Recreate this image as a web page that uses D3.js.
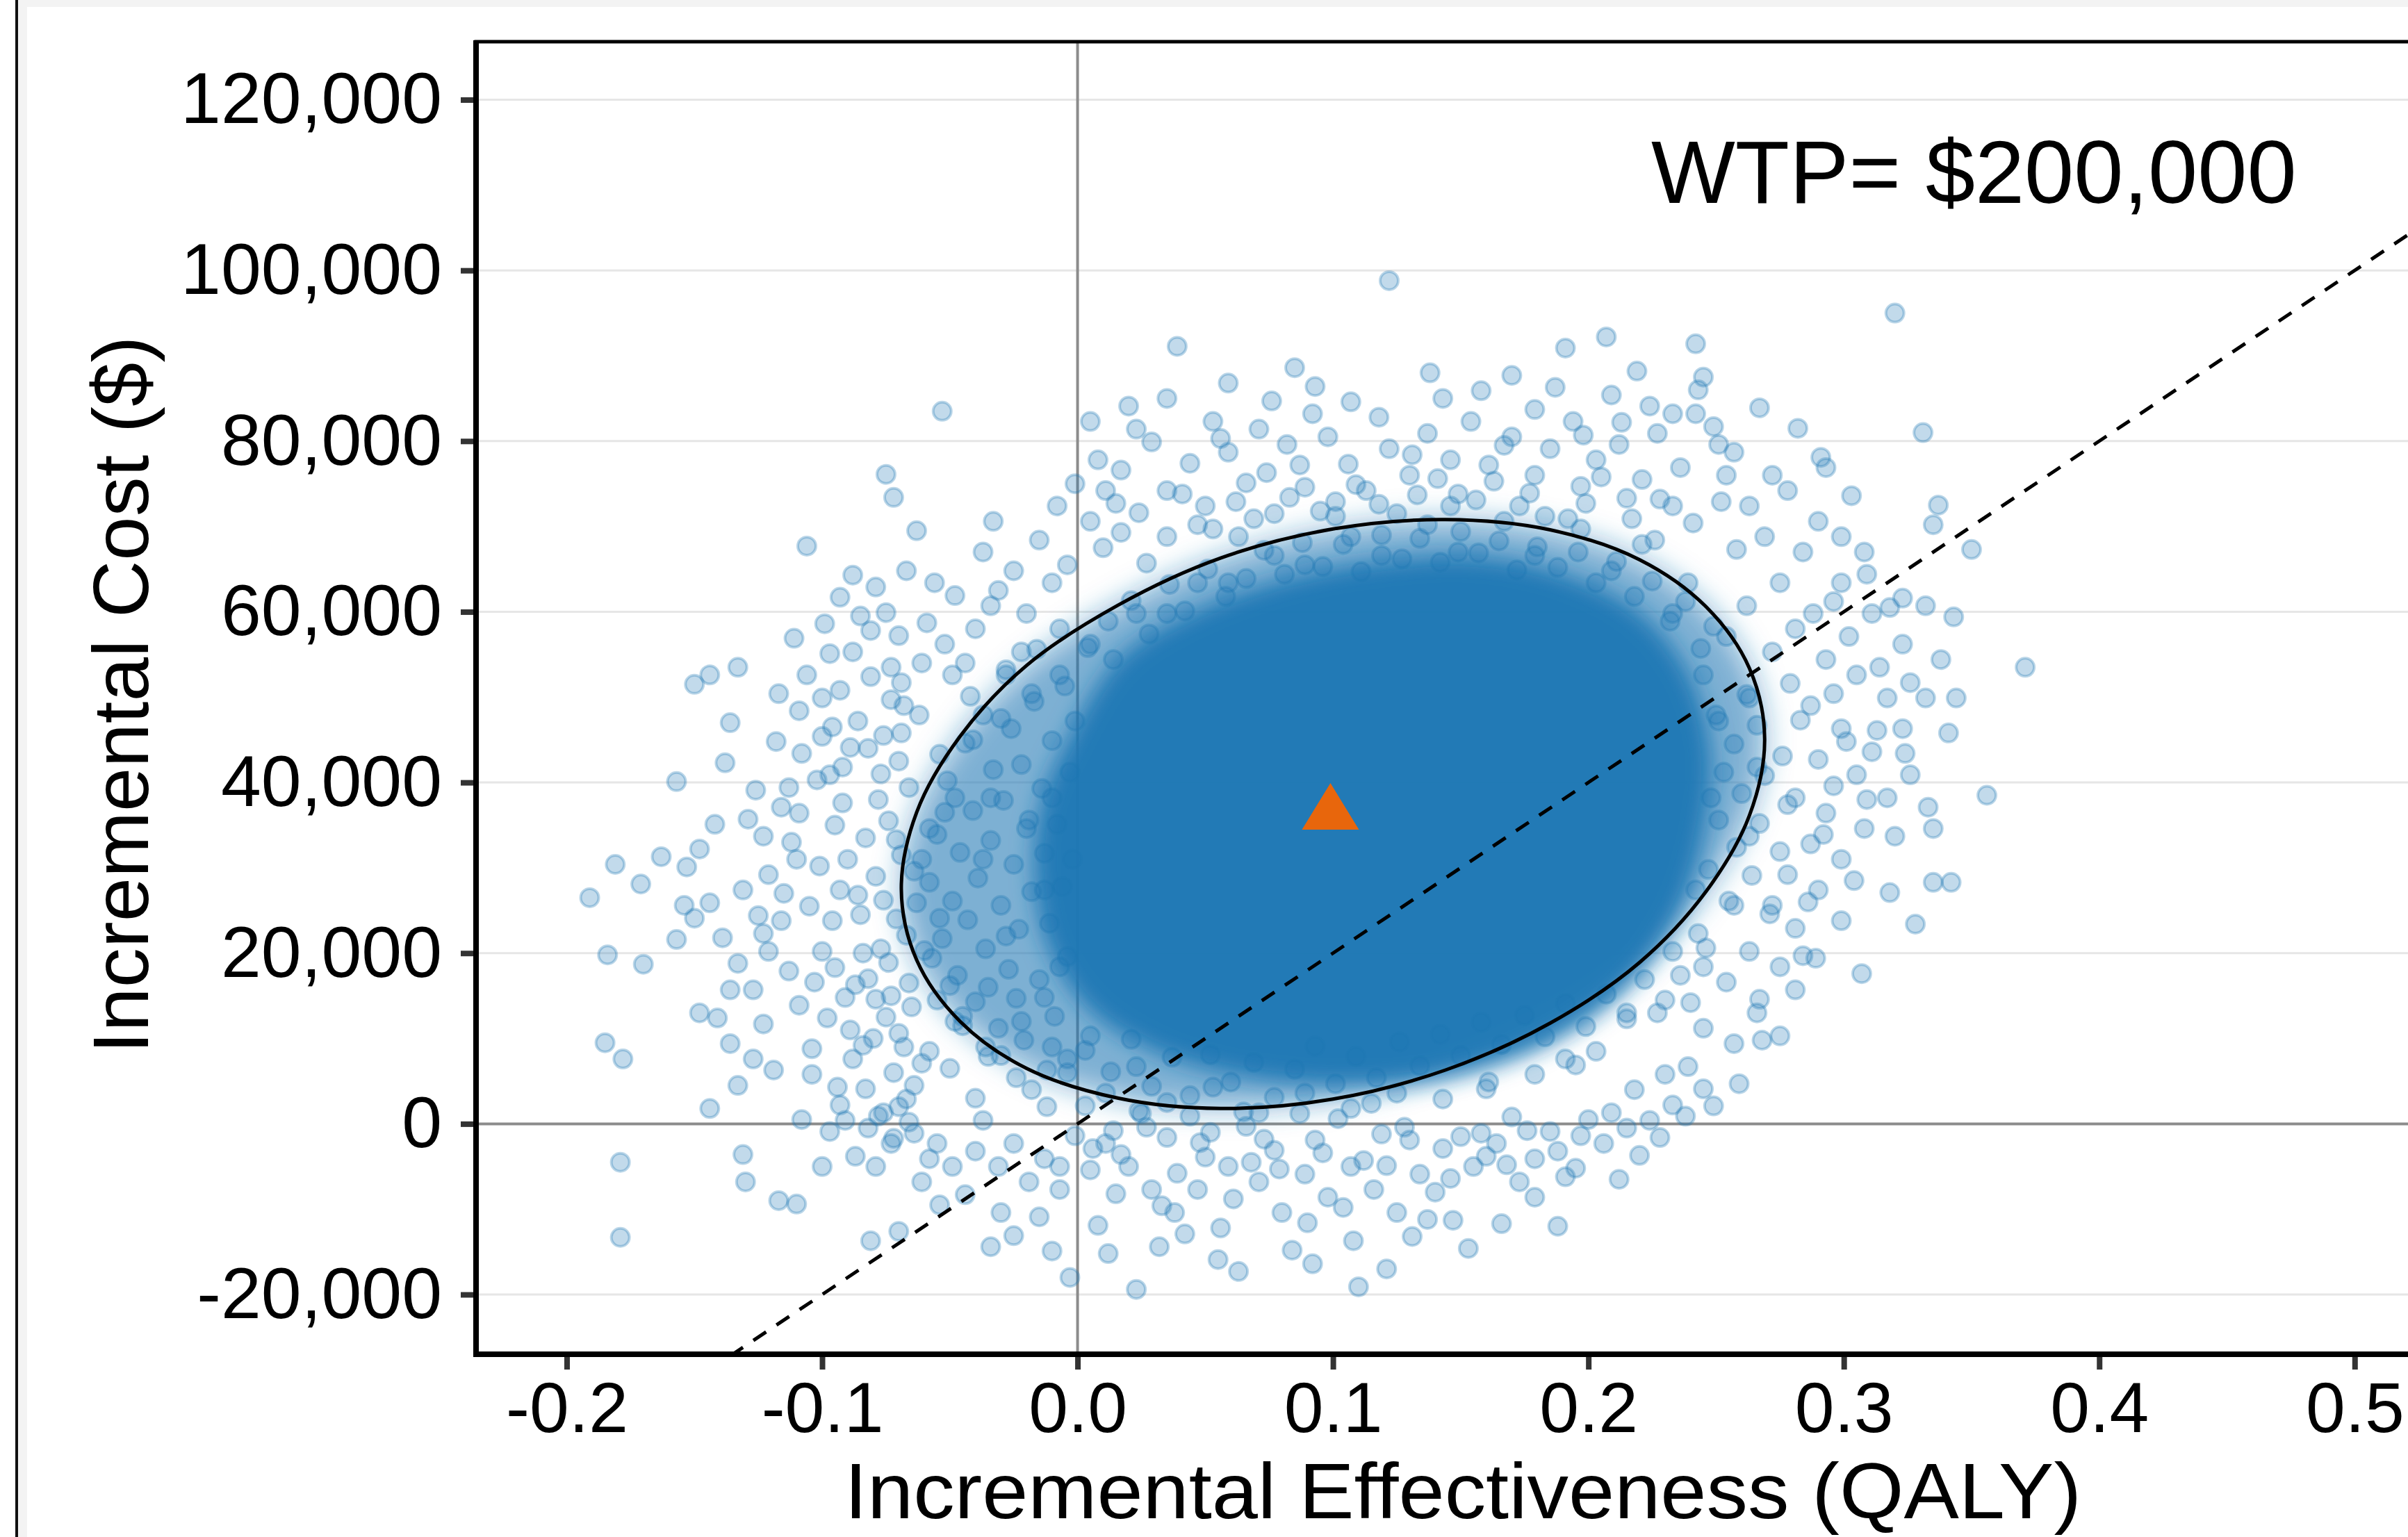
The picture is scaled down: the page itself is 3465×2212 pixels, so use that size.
<!DOCTYPE html>
<html lang="en">
<head>
  <meta charset="UTF-8">
  <title>Cost-effectiveness plane</title>
  <script src="https://d3js.org/d3.v7.min.js"></script>
  <style>
    body {
      margin: 0;
      padding: 0;
      background-color: #fff;
    }
    svg {
      display: block;
      font-family: "Liberation Sans", Arial, Helvetica, sans-serif;
    }
  </style>
</head>
<body>
  <svg id="chart"></svg>

  <script>
    // axis ticks and ranges
    const qalyTicks = [-0.2, -0.1, 0.0, 0.1, 0.2, 0.3, 0.4, 0.5];
    const costTicks = [-20000, 0, 20000, 40000, 60000, 80000, 100000, 120000];
    const qalyDomain = [-0.2355, 0.544];
    const costDomain = [-27000, 126800];

    // willingness to pay threshold and mean of the simulations
    const wtp = 200000;
    const meanPoint = [0.099, 37200];

    // simulation draws: [incremental QALY, incremental cost in $1,000]
    const farLeftPoints = [
      [-0.191,26.5],[-0.184,19.8],[-0.185,9.5],[-0.178,7.6],[-0.179,-4.5],[-0.179,-13.3],[-0.181,30.4],
      [-0.170,18.7],[-0.171,28.1],[-0.163,31.3],[-0.157,40.1],[-0.150,51.5],[-0.144,52.6],[-0.136,47.0],
      [-0.133,53.5],[-0.138,42.3],[-0.126,39.1],[-0.142,35.1],[-0.148,32.2],[-0.153,30.1],[-0.150,24.1],
      [-0.139,21.8],[-0.136,15.7],[-0.141,12.4],[-0.144,1.8],[-0.131,-3.6],[-0.130,-6.8],[-0.133,4.5],
      [-0.127,7.6],[-0.123,11.7],[-0.127,15.7],[-0.121,20.2],[-0.116,23.8],[-0.115,27.0],[-0.121,29.2],
      [-0.110,31.0],[-0.123,33.7],[-0.131,27.4],[-0.144,25.9],[-0.154,25.6],[-0.148,13.0],[-0.136,9.4],
      [-0.157,21.6],[-0.104,5.8],[-0.108,0.5],[-0.117,-9.0],[-0.110,-9.4],[-0.123,22.3],[-0.109,36.4],
      [-0.106,67.7],[-0.088,64.3],[-0.106,52.6],[-0.109,48.4],[-0.100,45.4],[-0.108,43.4],[-0.113,39.4],
      [-0.116,37.1],[-0.097,40.9],[-0.100,49.9],[-0.093,50.8],[-0.097,55.1],[-0.092,41.8],[-0.104,8.8],
      [-0.109,13.9],[-0.103,16.6],[-0.100,20.2],[-0.096,23.8],[-0.093,27.4],[-0.091,14.8],[-0.088,7.6],
      [-0.094,4.3],[-0.100,-5.0],[-0.091,0.4],[-0.087,-3.8],[-0.093,2.2],[-0.081,-13.7],[-0.088,55.3],
      [-0.086,47.2],[-0.083,33.5],[-0.079,29.0],[-0.085,24.5],[-0.077,20.5],[-0.082,17.0],[-0.075,12.5],
      [-0.080,10.0],[-0.072,6.0],[-0.078,38.0],[-0.070,42.5],[-0.076,45.5],[-0.068,49.0],[-0.082,44.0],
      [-0.074,35.5],[-0.069,31.5],[-0.071,24.0],[-0.066,16.5],[-0.073,15.0],[-0.084,20.0],[-0.090,31.0],
      [-0.095,35.0],[-0.089,11.0],[-0.068,9.0],[-0.064,4.5],[-0.070,2.0]
    ];
    const outerLeftPoints = [
      [-0.118,44.8],[-0.112,33.0],[-0.105,25.5],[-0.101,30.2],[-0.098,12.4],[-0.095,18.3],[-0.092,37.6],
      [-0.089,44.1],[-0.086,26.8],[-0.084,9.2],[-0.081,52.4],[-0.079,14.6],[-0.077,41.0],[-0.076,26.2],
      [-0.074,18.9],[-0.073,49.7],[-0.071,33.3],[-0.070,10.6],[-0.069,45.8],[-0.067,22.1],[-0.066,39.4],
      [-0.065,13.7],[-0.064,29.6],[-0.062,47.9],[-0.061,7.1],[-0.060,20.3],[-0.102,40.3],[-0.096,46.5],
      [-0.087,16.3],[-0.083,4.1],[-0.078,0.9],[-0.072,-1.7],[-0.066,0.2],[-0.097,-0.9],[-0.113,17.9],
      [-0.119,6.3],[-0.125,24.4],[-0.129,35.7],[-0.133,18.8],[-0.117,50.4],[-0.111,56.9],[-0.099,58.6],
      [-0.093,61.7],[-0.085,59.5],[-0.079,62.9],[-0.070,57.2]
    ];
    const innerLeftPoints = [
      [-0.058,28.3],[-0.055,33.9],[-0.053,21.7],[-0.051,40.2],[-0.049,26.1],[-0.047,17.4],[-0.046,31.8],
      [-0.044,44.6],[-0.043,23.9],[-0.041,36.7],[-0.040,14.3],[-0.039,28.8],[-0.037,47.9],[-0.036,20.5],
      [-0.034,33.2],[-0.033,41.5],[-0.031,11.2],[-0.030,25.6],[-0.029,37.9],[-0.027,18.1],[-0.026,46.3],
      [-0.025,30.4],[-0.023,22.8],[-0.022,42.1],[-0.021,9.8],[-0.019,35.6],[-0.018,27.2],[-0.017,49.5],
      [-0.015,16.9],[-0.014,39.3],[-0.013,31.7],[-0.011,23.5],[-0.010,44.9],[-0.009,12.6],[-0.008,35.1],
      [-0.006,27.8],[-0.005,51.3],[-0.004,19.6],[-0.003,41.2],[-0.002,31.0],[-0.052,36.5],[-0.048,12.0],
      [-0.042,50.1],[-0.035,7.9],[-0.028,53.2],[-0.024,14.7],[-0.016,55.6],[-0.012,6.3],[-0.057,19.4],
      [-0.054,43.3]
    ];
    const topLeftPoints = [
      [-0.075,76.1],[-0.072,73.4],[-0.063,69.5],[-0.053,83.5],[-0.056,63.4],[-0.081,57.8],[-0.075,59.9],
      [-0.067,64.8],[-0.073,53.5],[-0.059,58.7],[-0.052,56.2],[-0.044,54.0],[-0.037,67.0],[-0.031,62.5],
      [-0.049,52.6],[-0.040,58.0],[-0.033,70.6],[-0.025,64.8],[-0.020,59.8],[-0.015,68.4],[-0.010,63.4],
      [-0.007,58.0],[-0.008,72.4],[-0.004,65.5],[-0.022,55.3],[-0.028,52.6],[-0.061,54.0],[-0.069,51.7],
      [-0.034,60.7],[-0.048,61.9]
    ];
    const bottomLeftPoints = [
      [-0.082,-0.5],[-0.076,1.3],[-0.073,-2.3],[-0.064,-1.1],[-0.058,-4.1],[-0.055,-2.3],[-0.061,-6.8],
      [-0.049,-5.0],[-0.040,-3.2],[-0.044,-8.3],[-0.037,0.4],[-0.031,-5.0],[-0.025,-2.3],[-0.019,-6.8],
      [-0.013,-4.1],[-0.007,-7.7],[-0.003,-18.0],[0.008,-11.9],[-0.001,-1.4],[0.005,-5.4],[0.011,-2.3],
      [-0.030,-10.4],[-0.054,-9.5],[-0.067,2.9],[-0.079,-5.0],[-0.070,-12.6],[-0.025,-13.1],[-0.007,-5.0],
      [-0.034,-14.4],[-0.050,6.5],[-0.040,3.0],[-0.030,8.0],[-0.018,4.0],[-0.045,11.5],[-0.058,8.5],
      [-0.022,12.0],[-0.010,9.0],[-0.035,16.0],[-0.055,14.5],[-0.012,2.0],[-0.004,6.0]
    ];
    const bottomPoints = [
      [0.023,-19.4],[0.063,-17.3],[0.108,-13.7],[0.110,-19.1],[0.147,-11.3],[0.166,-11.7],[0.212,-6.5],
      [0.020,-5.0],[0.029,-7.7],[0.038,-10.4],[0.047,-7.7],[0.056,-12.2],[0.059,-5.0],[0.071,-6.8],
      [0.080,-10.4],[0.089,-5.9],[0.098,-8.6],[0.107,-5.0],[0.116,-7.7],[0.125,-10.4],[0.134,-5.9],
      [0.143,-2.9],[0.155,-5.0],[0.164,-2.3],[0.173,-6.8],[0.179,-4.1],[0.188,-3.2],[0.197,-1.4],
      [0.206,-2.3],[0.215,-0.5],[0.224,0.4],[0.035,-1.6],[0.077,-3.1],[0.119,-1.2],[0.131,-13.2],
      [0.084,-14.8],[0.042,-12.9],[0.032,-14.4],[0.179,-8.6],[0.209,1.3],[0.233,2.2],[0.014,-0.8],
      [0.052,-1.0],[0.066,-0.3],[0.093,-1.9],[0.102,0.6],[0.128,-0.4],[0.150,-1.5],[0.170,0.8],
      [0.185,-0.9],[0.044,0.9],[0.024,1.5],[0.087,1.2],[0.160,-3.8],[0.112,-4.3],[0.068,-4.5],
      [0.195,-5.2],[0.140,-8.0],[0.090,-11.6],[0.050,-3.9]
    ];
    const outerBottomPoints = [
      [0.006,-2.9],[0.017,-3.6],[0.027,-0.4],[0.039,-5.8],[0.048,-2.2],[0.061,-8.8],[0.073,-1.8],
      [0.079,-5.3],[0.096,-3.4],[0.104,-9.8],[0.121,-4.9],[0.130,-1.9],[0.137,-11.2],[0.146,-6.4],
      [0.158,-1.1],[0.168,-4.8],[0.176,-0.8],[0.191,-6.2],[0.200,0.5],[0.220,-3.7],[0.228,-1.6],
      [0.238,0.9],[0.245,4.1],[0.033,-9.6],[0.015,-8.2],[0.055,-15.9],[0.092,-16.4],[0.121,-17.0],
      [0.153,-14.6],[0.188,-12.0],[0.012,-15.2],[-0.015,-10.9],[-0.010,-14.9]
    ];
    const innerBottomPoints = [
      [0.003,8.6],[0.013,6.1],[0.021,9.9],[0.029,4.4],[0.037,7.8],[0.044,3.3],[0.052,8.1],[0.060,4.9],
      [0.069,7.2],[0.077,3.1],[0.085,6.4],[0.093,9.1],[0.101,4.7],[0.109,7.9],[0.117,5.4],[0.126,9.6],
      [0.134,6.8],[0.142,10.5],[0.150,8.0],[0.158,11.9],[0.166,9.3],[0.175,12.7],[0.183,10.2],
      [0.191,14.1],[0.199,11.4],[0.207,15.2],[0.215,12.3],[0.222,16.9],[0.230,14.5],[0.065,1.4],
      [0.115,2.4],[0.160,4.1],[0.195,6.9],[0.025,1.2],[0.003,2.1]
    ];
    const rightPoints = [
      [0.320,95.0],[0.331,81.0],[0.291,78.1],[0.293,76.9],[0.350,67.3],[0.337,72.5],[0.335,70.2],
      [0.371,53.5],[0.356,38.5],[0.342,28.3],[0.335,28.3],[0.328,23.4],[0.307,17.6],[0.267,14.6],
      [0.299,63.4],[0.311,59.8],[0.323,56.2],[0.338,54.4],[0.344,49.9],[0.317,49.9],[0.305,52.6],
      [0.293,54.4],[0.281,58.0],[0.275,63.4],[0.284,67.0],[0.269,68.8],[0.263,72.4],[0.254,76.0],
      [0.272,76.0],[0.278,74.2],[0.251,79.6],[0.242,83.2],[0.257,78.7],[0.290,70.6],[0.299,68.8],
      [0.308,67.0],[0.323,61.6],[0.332,60.7],[0.287,49.0],[0.299,46.3],[0.311,43.6],[0.326,40.9],
      [0.317,38.2],[0.305,40.9],[0.290,42.7],[0.281,38.2],[0.293,36.4],[0.308,34.6],[0.320,33.7],
      [0.335,34.6],[0.299,31.0],[0.287,32.8],[0.278,29.2],[0.290,27.4],[0.299,23.8],[0.281,22.9],
      [0.272,25.6],[0.275,18.4],[0.263,20.2],[0.254,16.6],[0.266,13.0],[0.257,9.4],[0.245,11.2],
      [0.239,6.7],[0.230,5.8],[0.218,4.0],[0.281,15.7],[0.332,49.9],[0.323,46.3],[0.302,57.1],
      [0.314,53.5],[0.326,51.7]
    ];
    const nearRightPoints = [
      [0.243,22.3],[0.247,29.8],[0.251,35.6],[0.253,41.2],[0.250,47.9],[0.255,26.1],[0.258,32.4],
      [0.260,38.7],[0.257,44.5],[0.262,50.3],[0.236,17.4],[0.240,14.2],[0.246,20.6],[0.264,29.1],
      [0.267,35.2],[0.269,40.8],[0.266,46.7],[0.271,24.6],[0.275,31.9],[0.278,37.4],[0.276,43.1],
      [0.283,47.3],[0.272,55.3],[0.279,51.6],[0.286,26.0],[0.284,19.7],[0.292,33.9],[0.296,39.6],
      [0.301,44.8],[0.304,28.5],[0.309,38.0],[0.313,46.1],[0.296,50.4],[0.288,59.8],[0.296,61.2],
      [0.309,64.4],[0.262,60.7],[0.268,9.8],[0.259,4.7],[0.249,2.1],[0.275,10.3],[0.289,19.4],
      [0.318,27.1],[0.324,43.4],[0.333,37.1],[0.341,45.8],[0.318,60.5],[0.343,59.4],[0.303,73.6],
      [0.282,81.5],[0.267,83.9]
    ];
    const topPoints = [
      [0.122,98.8],[0.085,88.6],[0.093,86.4],[0.191,90.9],[0.207,92.2],[0.219,88.2],[0.242,91.4],
      [0.245,87.5],[0.243,86.0],[0.023,81.4],[0.008,77.8],[0.011,74.2],[0.017,76.6],[0.029,79.9],
      [0.035,74.2],[0.044,77.4],[0.050,72.4],[0.059,78.7],[0.066,75.1],[0.074,76.3],[0.082,79.6],
      [0.089,74.6],[0.098,80.5],[0.106,77.3],[0.113,74.2],[0.122,79.1],[0.130,76.0],[0.137,80.9],
      [0.146,77.8],[0.154,82.3],[0.161,77.2],[0.170,80.5],[0.179,76.0],[0.185,79.1],[0.194,82.3],
      [0.203,77.8],[0.212,79.6],[0.221,75.5],[0.227,80.9],[0.236,76.9],[0.233,72.4],[0.215,73.3],
      [0.197,74.7],[0.173,72.4],[0.149,73.8],[0.125,71.5],[0.101,72.9],[0.077,71.5],[0.053,69.7],
      [0.035,68.8],[0.017,69.3],[0.005,70.6],[0.092,83.2],[0.143,85.0],[0.179,83.7],[0.224,84.1],
      [0.158,85.9],[0.170,87.7],[0.209,85.4],[0.233,83.2],[0.107,84.6],[0.071,81.4],[0.053,82.3],
      [0.035,85.0],[0.020,84.1],[0.005,82.3]
    ];
    const outerTopPoints = [
      [0.010,67.5],[0.024,71.6],[0.041,73.8],[0.047,70.2],[0.062,72.9],[0.069,70.9],[0.083,73.4],
      [0.095,71.8],[0.109,74.9],[0.118,72.6],[0.133,73.7],[0.141,75.6],[0.156,73.1],[0.163,75.3],
      [0.177,73.9],[0.183,71.2],[0.199,72.7],[0.205,75.8],[0.217,70.9],[0.228,73.2],[0.241,70.4],
      [0.252,72.9],[0.258,67.3],[0.131,78.4],[0.087,77.2],[0.167,79.5],[0.198,80.7],[0.056,80.3],
      [0.015,72.7],[-0.001,75.0],[0.213,82.2],[0.249,81.7],[0.118,82.8],[0.076,84.7],[0.187,86.3],
      [0.138,88.0],[0.059,86.8],[0.039,91.1]
    ];
    const innerTopPoints = [
      [0.004,55.8],[0.012,58.9],[0.021,61.3],[0.028,57.4],[0.036,63.2],[0.042,60.1],[0.051,65.0],
      [0.058,61.8],[0.066,63.9],[0.073,67.2],[0.081,64.4],[0.088,68.1],[0.096,65.3],[0.104,67.9],
      [0.111,64.7],[0.119,69.0],[0.127,66.2],[0.134,68.6],[0.142,65.8],[0.150,69.4],[0.157,66.9],
      [0.165,68.3],[0.172,64.9],[0.180,67.6],[0.188,65.2],[0.196,67.0],[0.203,63.4],[0.211,65.9],
      [0.218,61.8],[0.225,63.6],[0.232,58.9],[0.238,61.2],[0.244,55.7],[0.249,58.3],[0.027,65.7],
      [0.063,68.8],[0.101,71.2],[0.146,72.4],[0.192,70.9],[0.226,68.4]
    ];
    const ringPoints = [
      [-0.061,31.0],[-0.054,24.1],[-0.048,38.2],[-0.041,45.0],[-0.050,16.2],[-0.036,9.0],[-0.024,5.4],
      [-0.045,12.6],[-0.030,47.5],[-0.018,50.4],[-0.063,25.9],[-0.058,34.6],[-0.037,31.0],[-0.028,22.0],
      [-0.034,38.2],[-0.020,34.6],[-0.013,14.8],[-0.004,7.6],[0.011,3.6],[0.035,2.5],[0.071,1.3],
      [0.107,1.8],[0.143,2.9],[0.179,5.8],[0.203,8.5],[0.227,13.0],[0.245,18.4],[0.257,25.6],
      [0.263,33.7],[0.266,41.8],[0.263,49.9],[0.254,57.1],[0.239,63.4],[0.221,67.9],[0.197,69.7],
      [0.167,70.6],[0.137,70.2],[0.107,68.8],[0.077,66.6],[0.047,63.4],[0.023,59.8],[0.005,56.2],
      [-0.007,52.6],[0.251,47.2],[0.248,38.2],[0.242,27.4],[0.233,20.2],[0.215,13.0],[0.191,7.6],
      [0.161,4.9],[0.125,3.6],[0.089,3.6],[0.053,4.3],[0.023,6.7],[0.005,10.3],[-0.007,18.4],
      [-0.013,27.4],[-0.010,38.2],[-0.001,47.2],[0.014,54.4],[0.035,59.8],[0.059,63.4],[0.089,65.5],
      [0.119,66.6],[0.149,67.0],[0.179,66.6],[0.209,64.8],[0.233,59.8],[0.245,52.6]
    ];

    // 95% ellipse outline: [QALY, $1,000]
    const ellipseOutline = [
      [0.269,45.1],[0.263,53.4],[0.246,60.6],[0.220,66.1],[0.185,69.6],[0.144,70.8],[0.100,69.7],
      [0.056,66.3],[0.016,60.8],[-0.020,53.7],[-0.046,45.4],[-0.063,36.5],[-0.069,27.5],[-0.063,19.2],
      [-0.046,12.0],[-0.020,6.5],[0.016,3.0],[0.056,1.8],[0.100,2.9],[0.144,6.3],[0.185,11.8],
      [0.220,18.9],[0.246,27.2],[0.263,36.1]
    ];

    // region where the overlapping draws saturate: [QALY, $1,000]
    const denseCore = [
      [-0.004,45],[0.016,54.5],[0.045,60],[0.083,64],[0.120,66],[0.155,66.5],[0.190,64.5],[0.220,60],
      [0.239,53],[0.248,44],[0.246,35],[0.236,25],[0.215,16],[0.185,9.5],[0.145,5.5],[0.105,4.5],
      [0.065,5.5],[0.030,8.5],[0.004,13.5],[-0.012,21],[-0.017,30],[-0.014,38]
    ];

    const simPoints = [].concat(
      farLeftPoints, outerLeftPoints, innerLeftPoints, topLeftPoints, bottomLeftPoints,
      bottomPoints, outerBottomPoints, innerBottomPoints, rightPoints, nearRightPoints,
      topPoints, outerTopPoints, innerTopPoints, ringPoints);

    // ---- layout ----
    const W = 3465, H = 2212;
    const panel = { left: 685, top: 60, right: 3550, bottom: 1949 };
    const blue = "#1f77b4";

    const svg = d3.select("#chart").attr("width", W).attr("height", H);

    // page frame (grey strips and the thin black rule on the left)
    svg.append("rect").attr("width", W).attr("height", H).attr("fill", "#fff");
    svg.append("rect").attr("x", 26).attr("y", 0).attr("width", W - 26).attr("height", 10).attr("fill", "#f3f3f3");
    svg.append("rect").attr("x", 26).attr("y", 0).attr("width", 13).attr("height", H).attr("fill", "#f3f3f3");
    svg.append("rect").attr("x", 22).attr("y", 0).attr("width", 4).attr("height", H).attr("fill", "#111");

    const x = d3.scaleLinear().domain(qalyDomain).range([panel.left, panel.right]);
    const y = d3.scaleLinear().domain(costDomain).range([panel.bottom, panel.top]);

    const defs = svg.append("defs");
    defs.append("clipPath").attr("id", "panel-clip")
      .append("rect")
      .attr("x", panel.left).attr("y", panel.top)
      .attr("width", panel.right - panel.left).attr("height", panel.bottom - panel.top);
    defs.append("filter").attr("id", "soft-wide")
      .attr("x", "-30%").attr("y", "-30%").attr("width", "160%").attr("height", "160%")
      .append("feGaussianBlur").attr("stdDeviation", 20);
    defs.append("filter").attr("id", "soft-core")
      .attr("x", "-30%").attr("y", "-30%").attr("width", "160%").attr("height", "160%")
      .append("feGaussianBlur").attr("stdDeviation", 16);

    const plot = svg.append("g").attr("clip-path", "url(#panel-clip)");

    // horizontal grid
    plot.selectAll("line.grid")
      .data(costTicks)
      .join("line")
      .attr("class", "grid")
      .attr("x1", panel.left).attr("x2", panel.right)
      .attr("y1", d => y(d)).attr("y2", d => y(d))
      .attr("stroke", "#e6e6e6")
      .attr("stroke-width", 3);

    // zero reference lines
    plot.append("line")
      .attr("x1", x(0)).attr("x2", x(0))
      .attr("y1", panel.top).attr("y2", panel.bottom)
      .attr("stroke", "#8c8c8c").attr("stroke-width", 4);
    plot.append("line")
      .attr("x1", panel.left).attr("x2", panel.right)
      .attr("y1", y(0)).attr("y2", y(0))
      .attr("stroke", "#8c8c8c").attr("stroke-width", 4);

    const outline = d3.line()
      .x(d => x(d[0]))
      .y(d => y(d[1] * 1000))
      .curve(d3.curveCatmullRomClosed);

    // density of the cloud where single draws can no longer be told apart
    plot.append("path")
      .datum(ellipseOutline)
      .attr("d", outline)
      .attr("fill", blue)
      .attr("fill-opacity", 0.58)
      .attr("filter", "url(#soft-wide)");
    plot.append("path")
      .datum(denseCore)
      .attr("d", outline)
      .attr("fill", blue)
      .attr("fill-opacity", 0.95)
      .attr("filter", "url(#soft-core)");

    // individual draws
    plot.append("g")
      .selectAll("circle")
      .data(simPoints)
      .join("circle")
      .attr("cx", d => x(d[0]))
      .attr("cy", d => y(d[1] * 1000))
      .attr("r", 13)
      .attr("fill", blue)
      .attr("fill-opacity", 0.27)
      .attr("stroke", blue)
      .attr("stroke-opacity", 0.3)
      .attr("stroke-width", 4);

    // WTP threshold line
    const wtpLine = qalyDomain.map(q => [q, wtp * q / 1000]);
    plot.append("path")
      .datum(wtpLine)
      .attr("d", d3.line().x(d => x(d[0])).y(d => y(d[1] * 1000)))
      .attr("fill", "none")
      .attr("stroke", "#000")
      .attr("stroke-width", 5)
      .attr("stroke-dasharray", "22,18");

    // confidence ellipse
    plot.append("path")
      .datum(ellipseOutline)
      .attr("d", outline)
      .attr("fill", "none")
      .attr("stroke", "#000")
      .attr("stroke-width", 5);

    // mean marker
    const triW = 82, triH = 67;
    plot.append("path")
      .attr("transform", `translate(${x(meanPoint[0])},${y(meanPoint[1])})`)
      .attr("d", `M0,${-triH / 2}L${triW / 2},${triH / 2}L${-triW / 2},${triH / 2}Z`)
      .attr("fill", "#e8660c");

    // annotation
    svg.append("text")
      .attr("x", 2376).attr("y", 292)
      .attr("font-size", 128)
      .attr("fill", "#000")
      .text("WTP= $" + d3.format(",")(wtp));

    // panel border and axis lines
    svg.append("rect")
      .attr("x", panel.left).attr("y", panel.top)
      .attr("width", panel.right - panel.left).attr("height", panel.bottom - panel.top)
      .attr("fill", "none").attr("stroke", "#000").attr("stroke-width", 5);
    svg.append("line")
      .attr("x1", panel.left).attr("x2", panel.left)
      .attr("y1", panel.top - 2).attr("y2", panel.bottom + 4)
      .attr("stroke", "#000").attr("stroke-width", 8);
    svg.append("line")
      .attr("x1", panel.left - 4).attr("x2", panel.right)
      .attr("y1", panel.bottom).attr("y2", panel.bottom)
      .attr("stroke", "#000").attr("stroke-width", 8);

    // axes
    const fixMinus = s => s.replace("\u2212", "-");
    const yAxis = svg.append("g")
      .attr("transform", `translate(${panel.left - 4},0)`)
      .call(d3.axisLeft(y)
        .tickValues(costTicks)
        .tickSize(18)
        .tickPadding(27)
        .tickFormat(d => fixMinus(d3.format(",")(d))));
    const xAxis = svg.append("g")
      .attr("transform", `translate(0,${panel.bottom + 4})`)
      .call(d3.axisBottom(x)
        .tickValues(qalyTicks)
        .tickSize(18)
        .tickPadding(18)
        .tickFormat(d => fixMinus(d3.format(".1f")(d))));

    [yAxis, xAxis].forEach(axis => {
      axis.attr("font-family", null).attr("font-size", null);
      axis.select(".domain").remove();
      axis.selectAll(".tick line").attr("stroke", "#333").attr("stroke-width", 8);
    });
    yAxis.selectAll(".tick text").attr("fill", "#000").attr("font-size", 104);
    xAxis.selectAll(".tick text").attr("fill", "#000").attr("font-size", 102);

    // axis titles
    svg.append("text")
      .attr("x", 2105).attr("y", 2185)
      .attr("text-anchor", "middle")
      .attr("font-size", 113)
      .attr("textLength", 1780)
      .attr("lengthAdjust", "spacingAndGlyphs")
      .attr("fill", "#000")
      .text("Incremental Effectiveness (QALY)");
    svg.append("text")
      .attr("transform", "translate(213,1000) rotate(-90)")
      .attr("text-anchor", "middle")
      .attr("font-size", 114)
      .attr("fill", "#000")
      .text("Incremental Cost ($)");
  </script>
</body>
</html>
